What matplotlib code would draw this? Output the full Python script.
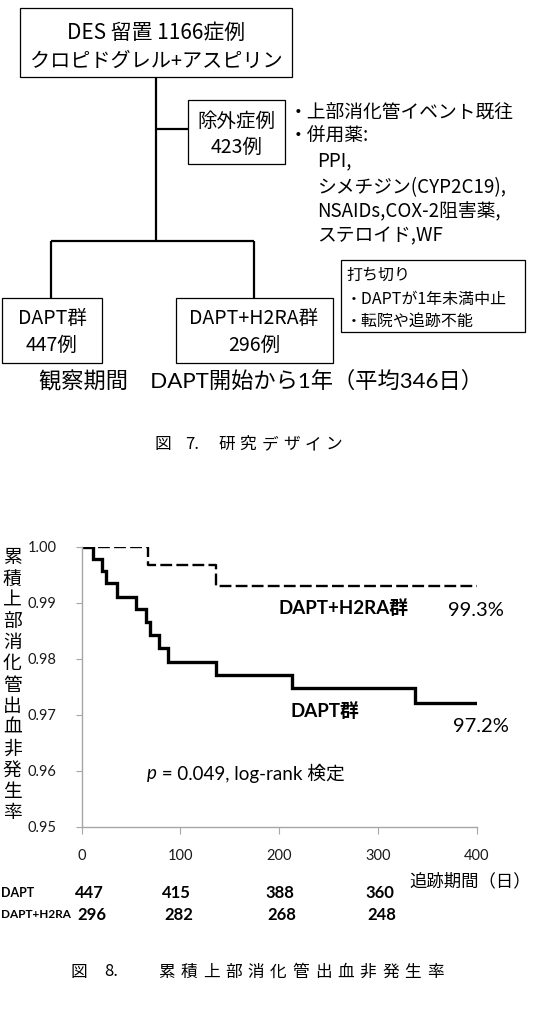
import matplotlib
matplotlib.use("Agg")
import matplotlib.pyplot as plt
from matplotlib.patches import Rectangle

plt.rcParams['font.family'] = ['Lato', 'Noto Sans CJK JP', 'DejaVu Sans']
JP = ['Noto Sans CJK JP', 'DejaVu Sans']
LAT = ['Lato', 'Noto Sans CJK JP', 'DejaVu Sans']

# ---- data: Kaplan-Meier curves (days, survival) ----
days_dapt = [0, 11, 21, 25, 36, 55, 65, 69, 78, 87.5, 135.5, 212.6, 337.7, 400]
surv_dapt = [1.0, 0.99774, 0.99571, 0.99345, 0.99095, 0.98881, 0.98661, 0.98423,
             0.98196, 0.97946, 0.97708, 0.97470, 0.97214, 0.97214]
days_h2ra = [0, 66.7, 135.5, 400]
surv_h2ra = [1.0, 0.99673, 0.99304, 0.99304]

x_ticks = [0, 100, 200, 300, 400]
y_ticks = [0.95, 0.96, 0.97, 0.98, 0.99, 1.00]

risk_labels = ['DAPT', 'DAPT+H2RA']
risk_dapt = [447, 415, 388, 360]
risk_h2ra = [296, 282, 268, 248]

ylabel_txt = '累積上部消化管出血非発生率'
caption7 = ['図', '7.', '研', '究', 'デ', 'ザ', 'イ', 'ン']
caption8 = ['図', '8.'] + list('累積上部消化管出血非発生率')

excl_items = ['・上部消化管イベント既往', '・併用薬:', 'PPI,', 'シメチジン(CYP2C19),',
              'NSAIDs,COX-2阻害薬,', 'ステロイド,WF']
censor_items = ['打ち切り', '・DAPTが1年未満中止', '・転院や追跡不能']

W, H = 535, 1036
fig = plt.figure(figsize=(W / 100, H / 100), dpi=100)

# overlay in pixel coordinates for the flow diagram and loose text
ov = fig.add_axes([0, 0, 1, 1])
ov.set_xlim(0, W)
ov.set_ylim(H, 0)
ov.axis('off')


def box(x0, y0, x1, y1, lw=0.9):
    ov.add_patch(Rectangle((x0, y0), x1 - x0, y1 - y0, fill=False, ec='black', lw=lw))


def line(xs, ys, lw=1.6):
    ov.plot(xs, ys, color='black', lw=lw, solid_capstyle='butt')


# ---- figure 7: study design ----
box(19.5, 7.5, 292, 77)
ov.text(156, 33, 'DES 留置 1166症例', ha='center', va='center', fontsize=15, family=JP)
ov.text(156, 61, 'クロピドグレル+アスピリン', ha='center', va='center', fontsize=14.5, family=JP)

line([155.6, 155.6], [77, 240.5])
line([155.6, 188], [129, 129])
box(188, 100, 285, 164)
ov.text(236.5, 121, '除外症例', ha='center', va='center', fontsize=14, family=JP)
ov.text(236.5, 147, '423例', ha='center', va='center', fontsize=14, family=JP)

ex_y = [112.6, 136.5, 160.4, 187.7, 211.5, 235.4]
for i, (t, yy) in enumerate(zip(excl_items, ex_y)):
    xx = 289 if i < 2 else 317
    ov.text(xx, yy, t, ha='left', va='center', fontsize=13.5, family=JP)

line([51.2, 254.2], [240.5, 240.5])
line([51.2, 51.2], [240.5, 298])
line([254.2, 254.2], [240.5, 298])

box(2, 298, 102.4, 362.6)
ov.text(52, 318, 'DAPT群', ha='center', va='center', fontsize=14, family=JP)
ov.text(52, 345.5, '447例', ha='center', va='center', fontsize=14, family=JP)
box(175.7, 298, 332.7, 362.6)
ov.text(254, 318, 'DAPT+H2RA群', ha='center', va='center', fontsize=14, family=JP)
ov.text(254, 345.5, '296例', ha='center', va='center', fontsize=14, family=JP)

box(341, 260, 525.4, 332)
for t, yy in zip(censor_items, [275.6, 299.5, 321.7]):
    ov.text(346, yy, t, ha='left', va='center', fontsize=11.5, family=JP)

ov.text(39, 381, '観察期間　DAPT開始から1年（平均346日）', ha='left', va='center',
        fontsize=16, family=LAT)

cap7_x = [162.5, 192.5, 226.5, 248, 269.5, 291, 312.5, 334]
for c, xx in zip(caption7, cap7_x):
    ov.text(xx, 444.5, c, ha='center', va='center', fontsize=12, family=JP)

# ---- figure 8: Kaplan-Meier ----
left, right, top, bottom = 81.7, 476.7, 546.7, 826.7
ax = fig.add_axes([left / W, 1 - bottom / H, (right - left) / W, (bottom - top) / H])
ax.set_facecolor('none')
ax.plot(days_dapt, surv_dapt, color='black', lw=2.4, drawstyle='steps-post',
        solid_joinstyle='miter')
ax.plot(days_h2ra, surv_h2ra, color='black', lw=1.7, drawstyle='steps-post',
        dashes=(5.0, 1.8))
ax.set_xlim(0, 400)
ax.set_ylim(0.95, 1.00)
ax.set_xticks(x_ticks)
ax.set_yticks(y_ticks)
ax.set_yticklabels(['%.2f' % v for v in y_ticks])
for s in ['top', 'right']:
    ax.spines[s].set_visible(False)
for s in ['left', 'bottom']:
    ax.spines[s].set_color('#A6A6A6')
    ax.spines[s].set_linewidth(1.0)
ax.tick_params(axis='y', direction='out', length=4, color='#A6A6A6', pad=14,
               labelsize=10.5, labelcolor='#1a1a1a')
ax.tick_params(axis='x', direction='out', length=5, color='#A6A6A6', pad=11,
               labelsize=10.5, labelcolor='#1a1a1a')

# y label as stacked characters
for i, c in enumerate(ylabel_txt):
    ov.text(12.3, 558 + i * 21.2, c, ha='center', va='center', fontsize=13.5, family=JP)

ov.text(344, 608, 'DAPT+H2RA群', ha='center', va='center', fontsize=13.5,
        fontweight='bold', family=LAT)
ov.text(476, 611, '99.3%', ha='center', va='center', fontsize=14.5, family=LAT)
ov.text(325, 711, 'DAPT群', ha='center', va='center', fontsize=13.5,
        fontweight='bold', family=LAT)
ov.text(481, 727, '97.2%', ha='center', va='center', fontsize=14.5, family=LAT)
ov.text(147, 773, 'p', ha='left', va='center', fontsize=13.5, style='italic', family=LAT)
ov.text(157, 773, ' = 0.049, log-rank 検定', ha='left', va='center', fontsize=13.5, family=LAT)

ov.text(470, 881, '追跡期間（日）', ha='center', va='center', fontsize=12.5, family=JP)

# numbers at risk
ov.text(0.5, 893, risk_labels[0], ha='left', va='center', fontsize=9, fontweight='bold', family=LAT)
ov.text(0.5, 915, risk_labels[1], ha='left', va='center', fontsize=8.5, fontweight='bold', family=LAT)
for v, xx in zip(risk_dapt, [89.4, 176, 280, 379.4]):
    ov.text(xx, 893, str(v), ha='center', va='center', fontsize=12, fontweight='bold', family=LAT)
for v, xx in zip(risk_h2ra, [91.4, 179, 282, 381.5]):
    ov.text(xx, 915, str(v), ha='center', va='center', fontsize=12, fontweight='bold', family=LAT)

cap8_x = [79, 111] + [166.5 + 22.4 * i for i in range(13)]
for c, xx in zip(caption8, cap8_x):
    ov.text(xx, 972, c, ha='center', va='center', fontsize=12, family=JP)

fig.savefig('out.png', dpi=100)
